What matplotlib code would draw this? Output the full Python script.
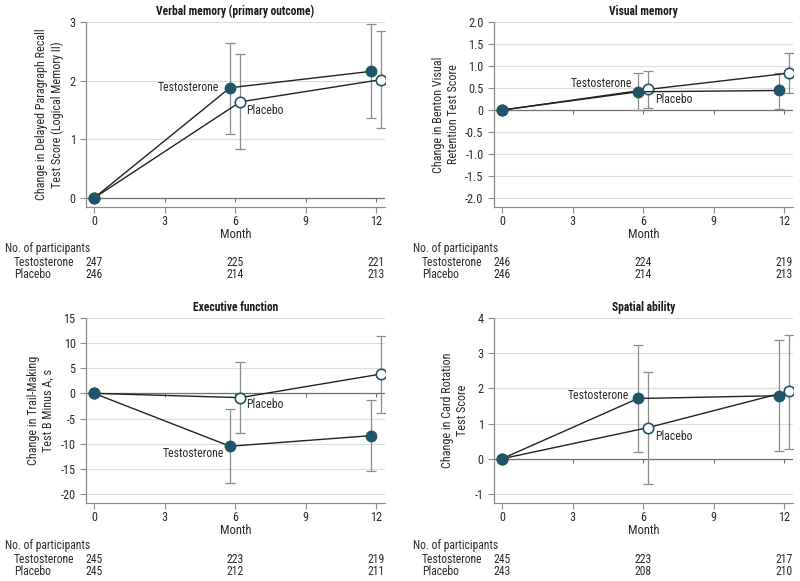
import matplotlib.pyplot as plt
from matplotlib import font_manager
import numpy as np

# prefer a narrow sans, like the original
names = set(f.name for f in font_manager.fontManager.ttflist)
fam = 'DejaVu Sans'
for cand in ['Liberation Sans Narrow', 'Roboto Condensed', 'Open Sans Condensed',
             'Noto Sans Condensed', 'Liberation Sans']:
    if cand in names:
        fam = cand
        break
plt.rcParams['font.family'] = [fam, 'DejaVu Sans']

months = [0, 6, 12]
titles = ["Verbal memory (primary outcome)", "Visual memory",
          "Executive function", "Spatial ability"]
ylabels = ["Change in Delayed Paragraph Recall\nTest Score (Logical Memory II)",
           "Change in Benton Visual\nRetention Test Score",
           "Change in Trail-Making\nTest B Minus A, s",
           "Change in Card Rotation\nTest Score"]

# testosterone / placebo means and 95% CI bounds
t_mean = [[0, 1.88, 2.16], [0, 0.415, 0.445], [0, -10.5, -8.4], [0, 1.71, 1.79]]
t_lo = [[0, 1.10, 1.36], [0, 0.0, 0.03], [0, -17.8, -15.5], [0, 0.19, 0.22]]
t_hi = [[0, 2.65, 2.96], [0, 0.84, 0.85], [0, -3.2, -1.3], [0, 3.23, 3.37]]
p_mean = [[0, 1.64, 2.02], [0, 0.47, 0.84], [0, -0.85, 3.85], [0, 0.885, 1.92]]
p_lo = [[0, 0.83, 1.19], [0, 0.05, 0.385], [0, -7.85, -3.9], [0, -0.71, 0.28]]
p_hi = [[0, 2.45, 2.84], [0, 0.895, 1.30], [0, 6.25, 11.35], [0, 2.47, 3.52]]

n_testo = [[247, 225, 221], [246, 224, 219], [245, 223, 219], [245, 223, 217]]
n_plac = [[246, 214, 213], [246, 214, 213], [245, 212, 211], [243, 208, 210]]

yticks = [[0, 1, 2, 3],
          [-2.0, -1.5, -1.0, -0.5, 0, 0.5, 1.0, 1.5, 2.0],
          [-20, -15, -10, -5, 0, 5, 10, 15],
          [-1, 0, 1, 2, 3, 4]]
ytick_labels = [["0", "1", "2", "3"],
                ["-2.0", "-1.5", "-1.0", "-0.5", "0", "0.5", "1.0", "1.5", "2.0"],
                ["-20", "-15", "-10", "-5", "0", "5", "10", "15"],
                ["-1", "0", "1", "2", "3", "4"]]
ylims = [(-0.15, 3.0), (-2.2, 2.0), (-21.8, 15), (-1.26, 4)]

# label spots for "Testosterone" (right edge) and "Placebo" (left edge)
t_lab = [(5.3, 1.88), (5.55, 0.60), (5.53, -11.85), (5.42, 1.79)]
p_lab = [(6.45, 1.50), (6.49, 0.24), (6.47, -2.2), (6.49, 0.64)]

teal = '#1f5568'
grid_c = '#dcdcdc'
axis_c = '#8c8c8c'
txt_c = '#2a2a2a'
fs = 8.2

fig = plt.figure(figsize=(8, 5.81), dpi=100)
positions = [[0.1075, 0.644, 0.374, 0.318], [0.6175, 0.644, 0.374, 0.318],
             [0.1075, 0.134, 0.374, 0.319], [0.6175, 0.134, 0.374, 0.319]]

off = 0.22
for i in range(4):
    ax = fig.add_axes(positions[i])
    ax.set_xlim(-0.34, 12.38)
    ax.set_ylim(*ylims[i])
    for yt in yticks[i]:
        ax.axhline(yt, color=grid_c, lw=0.8, zorder=0)
    ax.axhline(0, color='#707070', lw=0.9, zorder=1)
    # small ticks under the zero line
    ax.plot([3, 6, 9, 12], [0, 0, 0, 0], ls='none', marker=3, ms=3,
            color='#707070', mew=0.8, zorder=1)

    xt = [m - off if m > 0 else m for m in months]
    xp = [m + off if m > 0 else m for m in months]

    tm = np.array(t_mean[i][1:])
    pm = np.array(p_mean[i][1:])
    ax.errorbar(xt[1:], tm, yerr=[tm - np.array(t_lo[i][1:]), np.array(t_hi[i][1:]) - tm],
                fmt='none', ecolor='#8a8a8a', elinewidth=0.9, capsize=3.5, capthick=0.9, zorder=2)
    ax.errorbar(xp[1:], pm, yerr=[pm - np.array(p_lo[i][1:]), np.array(p_hi[i][1:]) - pm],
                fmt='none', ecolor='#8a8a8a', elinewidth=0.9, capsize=3.5, capthick=0.9, zorder=2)

    ax.plot(xp, p_mean[i], color='#222222', lw=1.0, marker='o', ms=7.5,
            mfc='white', mec=teal, mew=1.2, zorder=3)
    ax.plot(xt, t_mean[i], color='#222222', lw=1.0, marker='o', ms=7.5,
            mfc=teal, mec=teal, zorder=4)

    ax.text(t_lab[i][0], t_lab[i][1], "Testosterone", ha='right', va='center',
            fontsize=fs + 0.3, color=txt_c)
    ax.text(p_lab[i][0], p_lab[i][1], "Placebo", ha='left', va='center',
            fontsize=fs + 0.3, color=txt_c)

    ax.set_title(titles[i], fontsize=8.3, fontweight='bold', pad=5, color='#1a1a1a')
    ax.set_xticks([0, 3, 6, 9, 12])
    ax.set_yticks(yticks[i])
    ax.set_yticklabels(ytick_labels[i])
    ax.tick_params(labelsize=fs + 0.6, colors=txt_c, length=4, width=0.8)
    ax.tick_params(axis='x', pad=2)
    ax.tick_params(axis='both', color=axis_c)
    for s in ['top', 'right']:
        ax.spines[s].set_visible(False)
    for s in ['left', 'bottom']:
        ax.spines[s].set_color(axis_c)
        ax.spines[s].set_linewidth(0.9)
    ax.set_xlabel("Month", fontsize=fs + 0.8, color=txt_c, labelpad=0)
    ax.set_ylabel(ylabels[i], fontsize=fs + 0.5, color=txt_c, labelpad=4)

    # number of participants table
    trans = ax.get_xaxis_transform()
    ax.text(-3.79, -0.227, "No. of participants", transform=trans, fontsize=fs + 0.2,
            ha='left', va='center', color=txt_c, clip_on=False)
    ax.text(-3.40, -0.303, "Testosterone", transform=trans, fontsize=fs + 0.2,
            ha='left', va='center', color=txt_c, clip_on=False)
    ax.text(-3.40, -0.368, "Placebo", transform=trans, fontsize=fs + 0.2,
            ha='left', va='center', color=txt_c, clip_on=False)
    for j, m in enumerate(months):
        ax.text(m, -0.303, str(n_testo[i][j]), transform=trans, fontsize=fs + 0.2,
                ha='center', va='center', color=txt_c, clip_on=False)
        ax.text(m, -0.368, str(n_plac[i][j]), transform=trans, fontsize=fs + 0.2,
                ha='center', va='center', color=txt_c, clip_on=False)

fig.savefig('out.png', dpi=100)
